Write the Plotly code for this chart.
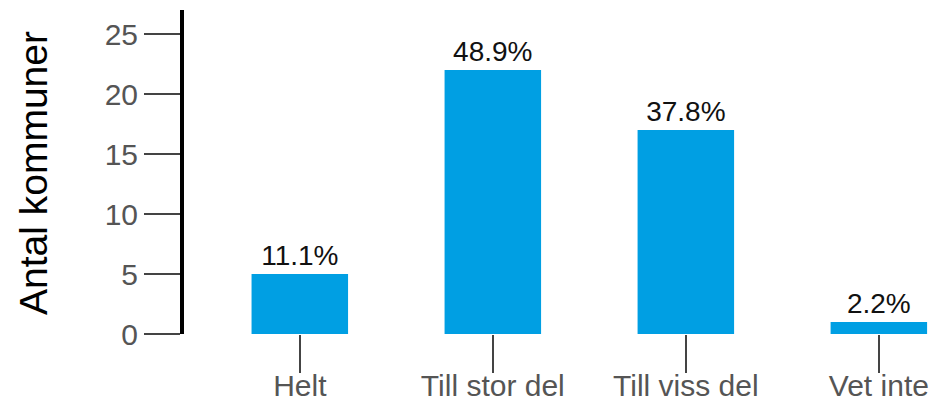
import plotly.graph_objects as go

# svar per kategori (antal kommuner)
categories = ["Helt", "Till stor del", "Till viss del", "Vet inte"]
counts = [5, 22, 17, 1]
y_ticks = [0, 5, 10, 15, 20, 25]

total = sum(counts)
labels = ["{:.1f}%".format(c / total * 100) for c in counts]

fig = go.Figure(go.Bar(
    x=categories,
    y=counts,
    text=labels,
    textposition="outside",
    textfont=dict(size=28, color="#111111"),
    marker=dict(color="#009fe3", line=dict(width=0)),
    width=0.5,
    cliponaxis=False,
))

# sidan har 8px marginal i body, därför 930x400
fig.update_layout(
    width=930, height=400,
    margin=dict(l=176, r=8, t=2, b=74),
    plot_bgcolor="white", paper_bgcolor="white",
    font=dict(family="Liberation Sans, Arial, sans-serif"),
    showlegend=False,
)

fig.update_xaxes(
    range=[-0.6, 3.265],
    automargin=False,
    showline=False, showgrid=False, zeroline=False,
    ticks="outside", ticklen=38, tickwidth=2, tickcolor="#444444",
    ticklabelstandoff=-13,
    tickfont=dict(size=30, color="#555555"),
)

fig.update_yaxes(
    range=[0, 27],
    tickvals=y_ticks,
    automargin=False,
    showline=True, linewidth=4, linecolor="black",
    showgrid=False, zeroline=False,
    ticks="outside", ticklen=36, tickwidth=2, tickcolor="#444444",
    tickfont=dict(size=30, color="#555555"),
)

# y-axeltitel
fig.add_annotation(
    text="Antal kommuner", textangle=-90,
    xref="paper", yref="paper", x=0, y=0.5,
    xanchor="center", yanchor="middle", xshift=-151, yshift=-1, showarrow=False,
    font=dict(size=39, color="black"),
)

fig.write_html("out.html")
